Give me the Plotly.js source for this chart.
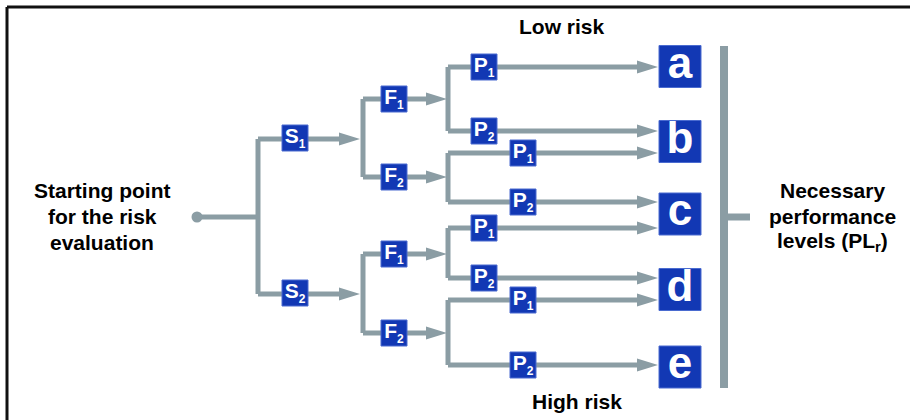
<!DOCTYPE html>
<html>
<head>
<meta charset="utf-8">
<script src="https://cdn.plot.ly/plotly-3.0.1.min.js"></script>
<style>html,body{margin:0;padding:0;background:#fff;}#chart{width:910px;height:420px;}</style>
</head>
<body>
<div id="chart"></div>
<script>
// ---- data (tree structure of the risk graph) ----
const sLabels = ["S", "S"];
const fLabels = ["F", "F"];
const pLabels = ["P", "P"];
const subLabels = ["1", "2"];
const plLevels = ["a", "b", "c", "d", "e"];
// outcome level of each path S-F-P in order S1F1P1, S1F1P2, S1F2P1, ... S2F2P2
const pathLevels = ["a", "b", "b", "c", "c", "d", "d", "e"];
const startText = ["Starting point", "for the risk", "evaluation"];
const resultText = ["Necessary", "performance", "levels (PL<sub>r</sub>)"];
const topText = "Low risk";
const bottomText = "High risk";

// ---- diagram geometry (axis units = pixels) ----
const sY = [139, 294];
const fY = [99, 177, 254, 333];
const pY = [67, 131, 153, 202, 228, 278, 300, 365];
const plY = [66.5, 141.5, 214, 289.5, 367];
const X = {start: 197, split1: 258, sBox: 295, sTip: 360, split2: 363, fBox: 394, fTip: 447,
           split3: 448, pBox: [484, 523], leafTip: 658, plBox: 680, bar: 724, stub: 750};
const startY = 217, barTop = 46, barBot = 388;
const AH = 21, AW = 6.5;
const GREY = '#8b9da4', BLUE = '#1238b4', EDGE = '#4a6bd0';
const FONT = 'Liberation Sans, Arial, sans-serif';

function boxText(letter, sub) {
  return '<b><span style="font-size:21px">' + letter + '</span><sub><span style="font-size:12px">' + sub + '</span></sub></b>';
}

const lx = [], ly = [], ax = [], ay = [];
function seg(pts) { pts.forEach(p => { lx.push(p[0]); ly.push(p[1]); }); lx.push(null); ly.push(null); }
function arrow(x0, tipX, y) {
  seg([[x0, y], [tipX - AH + 2, y]]);
  ax.push(tipX - AH, tipX, tipX - AH, tipX - AH, null);
  ay.push(y - AW, y, y + AW, y - AW, null);
}

const boxes = {x: [], y: [], t: []};
seg([[X.start, startY], [X.split1, startY]]);
seg([[X.split1, sY[0]], [X.split1, sY[1]]]);
sY.forEach((sy, i) => {
  arrow(X.split1, X.sTip, sy);
  boxes.x.push(X.sBox); boxes.y.push(sy - 1); boxes.t.push(boxText(sLabels[i], subLabels[i]));
  const f0 = fY[2 * i], f1 = fY[2 * i + 1];
  seg([[X.split2, f0], [X.split2, f1]]);
  [f0, f1].forEach((fy, j) => {
    arrow(X.split2, X.fTip, fy);
    boxes.x.push(X.fBox); boxes.y.push(fy); boxes.t.push(boxText(fLabels[j], subLabels[j]));
    const k = 4 * i + 2 * j;
    const p0 = pY[k], p1 = pY[k + 1];
    seg([[X.split3, p0], [X.split3, p1]]);
    [p0, p1].forEach((py, m) => {
      arrow(X.split3, X.leafTip, py);
      boxes.x.push(X.pBox[j]); boxes.y.push(py); boxes.t.push(boxText(pLabels[m], subLabels[m]));
    });
  });
});

const traces = [
  {x: lx, y: ly, mode: 'lines', line: {color: GREY, width: 5}, hoverinfo: 'skip'},
  {x: ax, y: ay, mode: 'lines', fill: 'toself', fillcolor: GREY, line: {color: GREY, width: 0}, hoverinfo: 'skip'},
  {x: [X.bar, X.bar], y: [barTop, barBot], mode: 'lines', line: {color: GREY, width: 8}, hoverinfo: 'skip'},
  {x: [X.bar, X.stub], y: [startY, startY], mode: 'lines', line: {color: GREY, width: 7}, hoverinfo: 'skip'},
  {x: [X.start], y: [startY], mode: 'markers', marker: {color: GREY, size: 11}, hoverinfo: 'skip'},
  {x: boxes.x, y: boxes.y, text: boxes.t, mode: 'markers+text', textposition: 'middle center',
   marker: {symbol: 'square', size: 26, color: BLUE, line: {color: EDGE, width: 1}},
   textfont: {family: FONT, size: 21, color: '#fff'}, hoverinfo: 'skip'},
  {x: plY.map(() => X.plBox), y: plY, text: plLevels.map(s => '<b>' + s + '</b>'), mode: 'markers+text',
   textposition: 'middle center',
   marker: {symbol: 'square', size: 42, color: BLUE, line: {color: EDGE, width: 1}},
   textfont: {family: FONT, size: 44, color: '#fff'}, hoverinfo: 'skip'}
];

const ann = [];
startText.forEach((t, i) => ann.push({x: 102, y: 190 + 26 * i, text: '<b>' + t + '</b>'}));
resultText.forEach((t, i) => ann.push({x: 832, y: 190 + 26 * i, text: '<b>' + t + '</b>'}));
ann.push({x: 562, y: 26, text: '<b>' + topText + '</b>'});
ann.push({x: 577, y: 401, text: '<b>' + bottomText + '</b>'});
ann.forEach(a => Object.assign(a, {xref: 'x', yref: 'y', showarrow: false, xanchor: 'center', yanchor: 'middle',
  font: {family: FONT, size: 21, color: '#000'}}));

const layout = {
  width: 910, height: 420, margin: {l: 0, r: 0, t: 0, b: 0},
  paper_bgcolor: '#fff', plot_bgcolor: '#fff', showlegend: false,
  xaxis: {range: [0, 910], visible: false, fixedrange: true},
  yaxis: {range: [420, 0], visible: false, fixedrange: true},
  annotations: ann,
  shapes: [
    {type: 'line', xref: 'x', yref: 'y', x0: 7, x1: 912, y0: 7, y1: 7, line: {color: '#111', width: 3}},
    {type: 'line', xref: 'x', yref: 'y', x0: 7, x1: 7, y0: 7, y1: 422, line: {color: '#111', width: 3}}
  ]
};
Plotly.newPlot('chart', traces, layout, {staticPlot: true, displayModeBar: false});
</script>
</body>
</html>
